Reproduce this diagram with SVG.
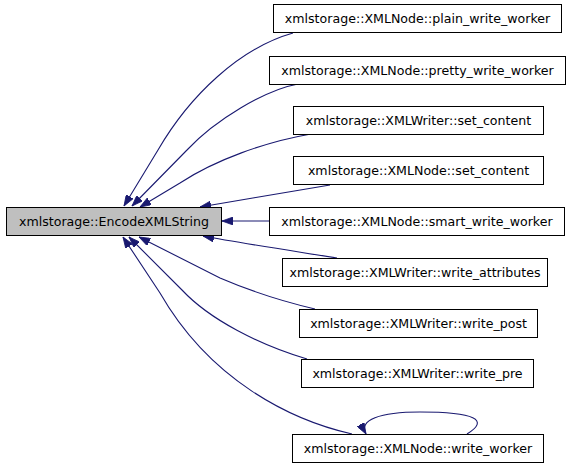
<svg xmlns="http://www.w3.org/2000/svg" width="571" height="467" viewBox="0 0 571 467">
<style>
.node rect{fill:#ffffff;stroke:#000000;stroke-width:1}
#encode rect{fill:#bfbfbf}
.node text{font-family:"DejaVu Sans",sans-serif;font-size:12.6px;text-anchor:middle;fill:#000000}
.edges path{fill:none;stroke:#191970;stroke-width:1.1;marker-end:url(#ah)}
</style>
<defs>
<marker id="ah" viewBox="0 0 11 8" refX="11" refY="4" markerWidth="11" markerHeight="8" markerUnits="userSpaceOnUse" orient="auto">
<path d="M0,0 L11,4 L0,8 z" fill="#191970" stroke="#191970" stroke-width="0.8"/>
</marker>
</defs>
<rect width="571" height="467" fill="#ffffff"/>
<g class="edges" id="edges">
<path d="M293,33 C240,48 190,95 158,150 L124,206"/>
<path d="M298,84 C265,90 215,120 187,150 L132,206"/>
<path d="M311,134 C265,142 215,160 180,183 L140,207"/>
<path d="M330,185 C300,190 240,200 200,207"/>
<path d="M269,221 L222,221"/>
<path d="M337,258 C300,252 240,243 203,236"/>
<path d="M315,309 C285,302 255,293 220,278 L139,237"/>
<path d="M307,359 C260,345 210,320 182,290 L129,237"/>
<path d="M352,434 C290,420 210,380 160,293 L123,237"/>
<path d="M467,434 C490,420 475,412 420,412 C380,412 358,420 366,434"/>
</g>
<g class="node" id="encode"><rect x="6.5" y="207.5" width="215" height="28"/><text x="114" y="226">xmlstorage::EncodeXMLString</text></g>
<g class="node" id="plain"><rect x="273.5" y="4.5" width="288" height="28"/><text x="417.5" y="23">xmlstorage::XMLNode::plain_write_worker</text></g>
<g class="node" id="pretty"><rect x="269.5" y="56.5" width="296" height="28"/><text x="417.5" y="75">xmlstorage::XMLNode::pretty_write_worker</text></g>
<g class="node" id="writer_set_content"><rect x="293.5" y="106.5" width="250" height="28"/><text x="418.5" y="125">xmlstorage::XMLWriter::set_content</text></g>
<g class="node" id="node_set_content"><rect x="293.5" y="156.5" width="250" height="28"/><text x="418.5" y="175">xmlstorage::XMLNode::set_content</text></g>
<g class="node" id="smart"><rect x="269.5" y="207.5" width="295" height="28"/><text x="417" y="226">xmlstorage::XMLNode::smart_write_worker</text></g>
<g class="node" id="attributes"><rect x="282.5" y="258.5" width="265" height="28"/><text x="415" y="277">xmlstorage::XMLWriter::write_attributes</text></g>
<g class="node" id="post"><rect x="299.5" y="309.5" width="238" height="28"/><text x="418.5" y="328">xmlstorage::XMLWriter::write_post</text></g>
<g class="node" id="pre"><rect x="301.5" y="359.5" width="232" height="28"/><text x="417.5" y="378">xmlstorage::XMLWriter::write_pre</text></g>
<g class="node" id="worker"><rect x="292.5" y="434.5" width="251" height="28"/><text x="418" y="453">xmlstorage::XMLNode::write_worker</text></g>
</svg>
